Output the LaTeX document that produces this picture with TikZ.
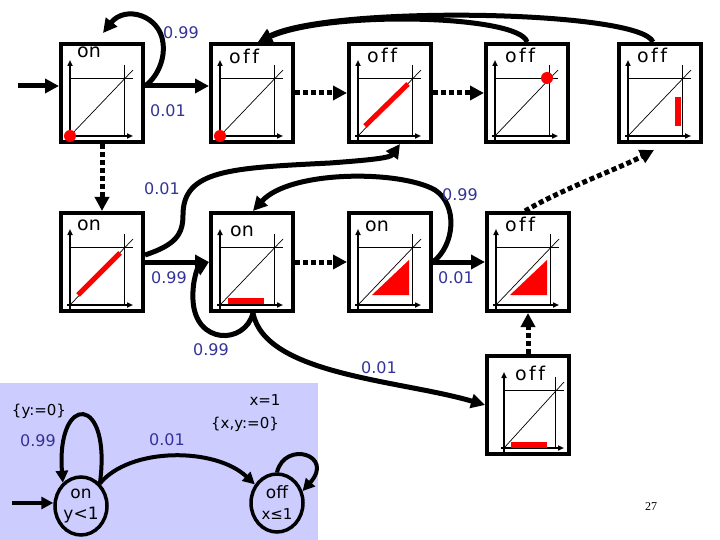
\documentclass[tikz,border=0pt]{standalone}
\usepackage{fontspec}
\setmainfont{DejaVu Sans}
\newfontfamily\pagefont{Liberation Serif}
\usetikzlibrary{arrows.meta,shapes.geometric,calc}
\definecolor{navy}{RGB}{51,51,153}
\definecolor{lav}{RGB}{204,204,255}
\definecolor{myred}{RGB}{255,0,0}
\newcommand\offw{o\kern2.5pt f\kern2.5pt f}
\newcommand\plotin[3]{%
  \draw[line width=0.7pt] (#1,94) -- (#3,28);
  \draw[line width=0.7pt] (#1,36) -- (#3,36);
  \draw[line width=0.7pt] (#2,23) -- (#2,94);
  \draw[line width=1.6pt,-{Triangle[length=6pt,width=5pt]}] (#1,100) -- (#1,18);
  \draw[line width=1.6pt,-{Triangle[length=6pt,width=5pt]}] (#1-3,94) -- (#3,94);
}
\begin{document}
\begin{tikzpicture}[x=1pt,y=-1pt,
  pbox/.style={draw,line width=4pt,minimum width=82pt,minimum height=98pt,inner sep=0pt},
  lbl/.style={inner sep=0pt,font=\fontsize{19}{22}\selectfont},
  prob/.style={inner sep=0pt,text=navy,font=\fontsize{16}{19}\selectfont},
  itxt/.style={inner sep=0pt,font=\fontsize{15}{18}\selectfont},
  conn/.style={line width=5pt,-{Triangle[length=14pt,width=14pt]}},
  dconn/.style={conn,dash pattern=on 5pt off 3pt},
  iconn/.style={line width=4pt,-{Triangle[length=12pt,width=12pt]}},
  st/.style={draw,ellipse,line width=3.5pt,minimum width=52pt,minimum height=58pt,inner sep=0pt,align=center,font=\fontsize{17}{21}\selectfont},
]
\useasboundingbox (0,0) rectangle (720,540);
\fill[lav] (0,383) rectangle (318,540);

% boxes
\node[pbox] (A) at (102,93) {};
\node[pbox] (B) at (252,93) {};
\node[pbox] (C) at (390,93) {};
\node[pbox] (D) at (527,93) {};
\node[pbox] (E) at (660,93) {};
\node[pbox] (F) at (102,262) {};
\node[pbox] (G) at (252,262) {};
\node[pbox] (H) at (390,262) {};
\node[pbox] (I) at (528,262) {};
\node[pbox] (J) at (528,405) {};

% plots
\begin{scope}[shift={(59,42)}]\plotin{11}{65}{74}
  \fill[myred] (11,94) circle (6pt);\end{scope}
\begin{scope}[shift={(209,42)}]\plotin{11}{65}{74}
  \fill[myred] (11,94) circle (6pt);\end{scope}
\begin{scope}[shift={(347,42)}]\plotin{11}{65}{74}
  \draw[myred,line width=5pt] (18,84) -- (61,42);\end{scope}
\begin{scope}[shift={(484,42)}]\plotin{11}{65}{74}
  \fill[myred] (63,36) circle (6pt);\end{scope}
\begin{scope}[shift={(617,42)}]\plotin{11}{65}{74}
  \fill[myred] (58,55) rectangle (64,84);\end{scope}
\begin{scope}[shift={(59,211)}]\plotin{11}{65}{74}
  \draw[myred,line width=5pt] (19,84) -- (61,42);\end{scope}
\begin{scope}[shift={(209,211)}]\plotin{11}{65}{74}
  \fill[myred] (19,87) rectangle (55,93);\end{scope}
\begin{scope}[shift={(347,211)}]\plotin{11}{65}{74}
  \fill[myred] (25,84) -- (62,84) -- (62,49) -- cycle;\end{scope}
\begin{scope}[shift={(485,211)}]\plotin{11}{65}{74}
  \fill[myred] (25,84) -- (62,84) -- (62,49) -- cycle;\end{scope}
\begin{scope}[shift={(485,354)}]\plotin{19}{70}{79}
  \fill[myred] (26,88) rectangle (62,94);\end{scope}

% box labels
\node[lbl] (tA) at (89,52) {on};
\node[lbl] (tB) at (244,56) {\offw};
\node[lbl] (tC) at (382,55) {\offw};
\node[lbl] (tD) at (520,55) {\offw};
\node[lbl] (tE) at (652,55) {\offw};
\node[lbl] (tF) at (89,225) {on};
\node[lbl] (tG) at (242,231) {on};
\node[lbl] (tH) at (377,226) {on};
\node[lbl] (tI) at (520,224) {\offw};
\node[lbl] (tJ) at (530,373) {\offw};

% row 1 connectors
\coordinate (i0) at (18,86);
\coordinate (aL) at (103,33);
\draw[conn] (i0) -- (A.west |- i0);
\draw[conn] (A.east |- i0) -- (B.west |- i0);
\draw[conn] (A.east |- i0) .. controls (160,75) and (165,55) .. (163,43) .. controls (160,15) and (125,5) .. (aL);
\draw[dconn] (B.east) -- (C.west);
\draw[dconn] (C.east) -- (D.west);
\draw[conn] (D.north) .. controls (520,15) and (330,10) .. ([xshift=6pt]B.north);
\draw[conn] ([xshift=-7pt]E.north) .. controls (640,10) and (330,5) .. ([xshift=6pt]B.north);
\node[prob] (p1) at (181,33) {0.99};
\node[prob] (p2) at (168,111) {0.01};

% row 2 connectors
\draw[dconn] (A.south) -- (F.north);
\draw[conn] (F.east) -- (G.west);
\draw[conn] ([yshift=7pt]F.east) .. controls (175,245) and (183,235) .. (183,215) .. controls (183,170) and (230,168) .. (330,163) .. controls (370,160) and (390,158) .. ([xshift=10pt]C.south);
\draw[conn] ([xshift=1pt]G.south) .. controls (245,345) and (195,345) .. (193,300) .. controls (192,280) and (198,268) .. (G.west);
\draw[conn] ([xshift=1pt]G.south) .. controls (265,375) and (400,380) .. (J.west);
\draw[dconn] (G.east) -- (H.west);
\draw[conn] (H.east) .. controls (455,245) and (458,205) .. (435,190) .. controls (400,170) and (290,170) .. ([xshift=1pt]G.north);
\draw[conn] (H.east) -- (I.west);
\draw[dconn] ([xshift=-3pt]I.north) .. controls (560,190) and (620,168) .. ([xshift=-6pt,yshift=-6pt]E.south);
\draw[dconn] (J.north) -- (I.south);
\node[prob] (p3) at (162,189) {0.01};
\node[prob] (p4) at (460,195) {0.99};
\node[prob] (p5) at (169,278) {0.99};
\node[prob] (p6) at (456,278) {0.01};
\node[prob] (p7) at (211,350) {0.99};
\node[prob] (p8) at (379,368) {0.01};

% inset automaton
\node[st] (son) at (81,506) {on\\y<1};
\node[st] (soff) at (277,503) {off\\{\fontsize{15}{18}\selectfont x≤1}};
\coordinate (i1) at (12,503);
\draw[iconn] (i1) -- (son.west |- i1);
\draw[iconn] (son.50) .. controls (112,393) and (56,393) .. (son.128);
\draw[iconn] (son.50) .. controls (130,447) and (215,447) .. (soff.140);
\draw[iconn] (soff.north) .. controls (285,440) and (335,455) .. (soff.25);
\node[itxt] (g1) at (39,411) {\{y:=0\}};
\node[prob] (p9) at (38,441) {0.99};
\node[itxt] (g2) at (265,400) {x=1};
\node[itxt] (g3) at (245,424) {\{x,y:=0\}};
\node[prob] (p10) at (167,440) {0.01};

\node[font=\pagefont\fontsize{12}{14}\selectfont,inner sep=0pt] (pg) at (651,507) {27};
\end{tikzpicture}
\end{document}
